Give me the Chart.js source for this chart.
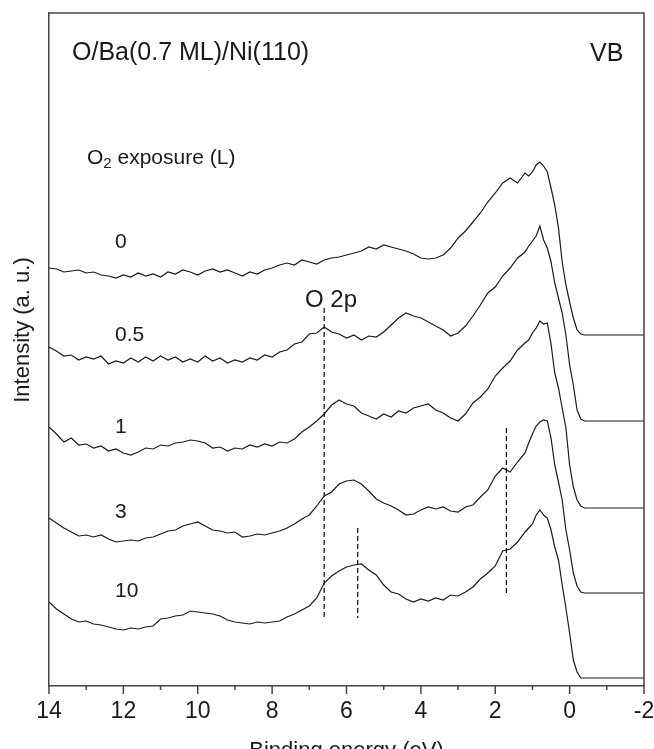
<!DOCTYPE html>
<html>
<head>
<meta charset="utf-8">
<script src="https://cdn.jsdelivr.net/npm/chart.js@4.4.0/dist/chart.umd.min.js"></script>
<style>
  html, body { margin: 0; padding: 0; background: #fff; }
  canvas { display: block; }
</style>
</head>
<body>
<canvas id="vbChart" width="654" height="749"></canvas>
<script>
// Binding energy grid (eV), finer through the Fermi edge
const energy = [
  14.0, 13.8, 13.6, 13.4, 13.2, 13.0, 12.8, 12.6, 12.4, 12.2,
  12.0, 11.8, 11.6, 11.4, 11.2, 11.0, 10.8, 10.6, 10.4, 10.2,
  10.0, 9.8, 9.6, 9.4, 9.2, 9.0, 8.8, 8.6, 8.4, 8.2,
  8.0, 7.8, 7.6, 7.4, 7.2, 7.0, 6.8, 6.6, 6.4, 6.2,
  6.0, 5.8, 5.6, 5.4, 5.2, 5.0, 4.8, 4.6, 4.4, 4.2,
  4.0, 3.8, 3.6, 3.4, 3.2, 3.0, 2.8, 2.6, 2.4, 2.2,
  2.0, 1.8, 1.6, 1.4, 1.2,
  1.1, 1.0, 0.9, 0.8, 0.7, 0.6, 0.5, 0.4, 0.3, 0.2,
  0.1, 0.0, -0.1, -0.2, -0.3, -0.4,
  -0.6, -0.8, -1.0, -1.2, -1.4, -1.6, -1.8, -2.0
];

// O2 exposure of each spectrum (L)
const exposures = ["0", "0.5", "1", "3", "10"];

// Intensity above the flat level past the Fermi edge (a. u.)
const vb0 = [
  67, 66, 63, 64, 65, 62, 63, 60, 59, 57,
  60, 58, 62, 59, 61, 58, 63, 61, 65, 63,
  60, 64, 66, 63, 65, 62, 59, 63, 61, 65,
  67, 70, 72, 70, 75, 73, 71, 75, 77, 78,
  80, 82, 84, 88, 86, 90, 88, 86, 84, 81,
  77, 76, 77, 80, 87, 97, 104, 113, 122, 133,
  142, 152, 157, 152, 162,
  159, 163, 170, 173, 169, 163, 147, 130, 107, 73,
  50, 33, 17, 5, 1, 0,
  0, 0, 0, 0, 0, 0, 0, 0
];
const vb05 = [
  74, 70, 65, 66, 61, 64, 62, 65, 57, 60,
  58, 63, 59, 64, 60, 65, 61, 64, 59, 62,
  59, 65, 60, 63, 58, 61, 59, 63, 61, 66,
  64, 69, 71, 77, 79, 87, 88, 94, 89, 87,
  83, 86, 81, 85, 84, 89, 96, 103, 108, 105,
  103, 99, 95, 91, 85, 88, 95, 105, 116, 128,
  134, 145, 153, 163, 169,
  175, 180, 185, 195, 181, 173, 159, 138, 123, 108,
  86, 56, 36, 11, 2, 0,
  0, 0, 0, 0, 0, 0, 0, 0
];
const vb1 = [
  81, 74, 66, 70, 63, 64, 60, 62, 57, 59,
  55, 53, 56, 60, 59, 63, 62, 65, 66, 68,
  67, 65, 60, 61, 57, 60, 59, 63, 61, 64,
  62, 66, 65, 69, 76, 81, 87, 94, 103, 108,
  104, 102, 95, 92, 89, 94, 91, 97, 95, 100,
  102, 104, 98, 95, 90, 87, 94, 105, 111, 119,
  132, 140, 147, 158, 165,
  168, 175, 180, 187, 184, 185, 164, 135, 120, 100,
  80, 43, 21, 8, 2, 0,
  0, 0, 0, 0, 0, 0, 0, 0
];
const vb3 = [
  75, 70, 65, 61, 57, 58, 56, 58, 54, 51,
  52, 53, 52, 55, 56, 59, 62, 63, 67, 69,
  71, 67, 63, 62, 60, 61, 56, 57, 59, 58,
  60, 62, 65, 69, 74, 78, 87, 97, 101, 109,
  112, 113, 109, 102, 94, 90, 87, 83, 78, 79,
  83, 86, 84, 86, 82, 81, 86, 88, 96, 103,
  117, 125, 121, 131, 140,
  150, 159, 167, 171, 173, 172, 155, 128, 111, 93,
  63, 43, 20, 7, 1, 0,
  0, 0, 0, 0, 0, 0, 0, 0
];
const vb10 = [
  76, 69, 64, 59, 56, 57, 54, 53, 51, 49,
  48, 50, 49, 51, 52, 59, 60, 62, 63, 67,
  66, 65, 64, 62, 58, 56, 55, 54, 56, 55,
  56, 57, 61, 64, 68, 72, 80, 95, 102, 107,
  111, 113, 114, 108, 103, 93, 86, 84, 79, 76,
  79, 77, 80, 78, 83, 82, 86, 91, 99, 105,
  112, 127, 129, 136, 146,
  150, 154, 163, 168, 163, 160, 148, 131, 118, 93,
  70, 45, 18, 6, 0, 0,
  0, 0, 0, 0, 0, 0, 0, 0
];
const spectra = [vb0, vb05, vb1, vb3, vb10];

// vertical stacking of the spectra (a. u.)
const offsets = [351, 265, 178, 93, 8];

// dashed markers: O 2p at 6.6 eV, shifted peak at 5.7 eV, shoulder at 1.7 eV
const markerEnergy = [6.6, 5.7, 1.7];
const markerTop = [378, 158, 258];
const markerBottom = [69, 68, 91];

const FONT = '"Liberation Sans", Arial, sans-serif';
const INK = "#1a1a1a";
const AXIS = "#444";

const datasets = spectra.map((vals, i) => ({
  label: exposures[i] + " L",
  data: energy.map((e, k) => ({ x: e, y: vals[k] + offsets[i] })),
  borderColor: INK,
  borderWidth: 1.2,
  pointRadius: 0,
  tension: 0,
  fill: false,
}));

markerEnergy.forEach((e, i) => {
  datasets.push({
    label: "marker " + e,
    data: [
      { x: e, y: markerTop[i] },
      { x: e, y: markerBottom[i] },
    ],
    borderColor: INK,
    borderWidth: 1.3,
    borderDash: [5, 3],
    pointRadius: 0,
    fill: false,
  });
});

// frame, tick marks and all the text
const decorations = {
  id: "decorations",
  afterDraw(chart) {
    const { ctx, chartArea: a, scales } = chart;
    const x = scales.x;
    ctx.save();

    ctx.strokeStyle = AXIS;
    ctx.lineWidth = 1.5;
    ctx.beginPath();
    ctx.moveTo(a.left, a.top);
    ctx.lineTo(a.right, a.top);
    ctx.lineTo(a.right, a.bottom);
    ctx.stroke();

    // major ticks every 2 eV, minor ticks in between
    for (let v = -2; v <= 14; v++) {
      const px = x.getPixelForValue(v);
      const len = v % 2 === 0 ? 8 : 4;
      ctx.beginPath();
      ctx.moveTo(px, a.bottom);
      ctx.lineTo(px, a.bottom + len);
      ctx.stroke();
    }

    ctx.fillStyle = INK;
    ctx.textBaseline = "alphabetic";
    ctx.textAlign = "left";

    ctx.font = "25px " + FONT;
    ctx.fillText("O/Ba(0.7 ML)/Ni(110)", 72, 60);
    ctx.fillText("VB", 590, 61);

    // O2 exposure (L) with subscript
    ctx.font = "21px " + FONT;
    ctx.fillText("O", 87, 164);
    let w = ctx.measureText("O").width;
    ctx.font = "15px " + FONT;
    ctx.fillText("2", 87 + w, 168);
    w += ctx.measureText("2").width;
    ctx.font = "21px " + FONT;
    ctx.fillText(" exposure (L)", 87 + w, 164);

    const labelBase = [248, 341, 433, 518, 597];
    exposures.forEach((t, i) => ctx.fillText(t, 115, labelBase[i]));

    ctx.font = "24px " + FONT;
    ctx.fillText("O 2p", 305, 307);

    // axis titles
    ctx.font = "22px " + FONT;
    ctx.textAlign = "center";
    ctx.fillText("Binding energy (eV)", (a.left + a.right) / 2, 757);

    ctx.translate(23, 330);
    ctx.rotate(-Math.PI / 2);
    ctx.textBaseline = "middle";
    ctx.fillText("Intensity (a. u.)", 0, 0);

    ctx.restore();
  },
};

new Chart(document.getElementById("vbChart"), {
  type: "line",
  data: { datasets },
  options: {
    responsive: false,
    animation: false,
    devicePixelRatio: 1,
    layout: {
      autoPadding: false,
      padding: { left: 0, right: 10, top: 13, bottom: 0 },
    },
    plugins: { legend: { display: false }, tooltip: { enabled: false } },
    scales: {
      x: {
        type: "linear",
        min: -2,
        max: 14,
        reverse: true,
        afterFit: (s) => {
          s.height = 63;
          s.paddingLeft = 0;
          s.paddingRight = 0;
        },
        grid: { display: false, drawTicks: false },
        border: { display: true, color: AXIS, width: 1.5 },
        ticks: {
          stepSize: 2,
          padding: 12,
          color: INK,
          font: { family: FONT, size: 23 },
          maxRotation: 0,
        },
      },
      y: {
        min: 0,
        max: 673,
        afterFit: (s) => { s.width = 49; },
        grid: { display: false, drawTicks: false },
        border: { display: true, color: AXIS, width: 1.5 },
        ticks: { display: false },
      },
    },
  },
  plugins: [decorations],
});
</script>
</body>
</html>
